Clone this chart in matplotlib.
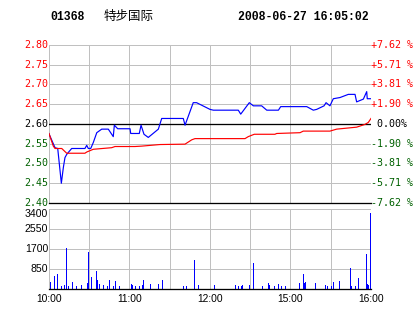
import matplotlib
matplotlib.use('Agg')
import matplotlib.pyplot as plt
import matplotlib.transforms as mtransforms

# ---- data ----
code = "01368"
name = "特步国际"
stamp = "2008-06-27 16:05:02"

price_levels = [2.40, 2.45, 2.50, 2.55, 2.60, 2.65, 2.70, 2.75, 2.80]
price_labels = ["2.40", "2.45", "2.50", "2.55", "2.60", "2.65", "2.70", "2.75", "2.80"]
pct_labels = ["-7.62 %", "-5.71 %", "-3.81 %", "-1.90 %", " 0.00%",
              "+1.90 %", "+3.81 %", "+5.71 %", "+7.62 %"]
prev_close = 2.60

time_ticks = [0, 60, 120, 180, 240]
time_labels = ["10:00", "11:00", "12:00", "15:00", "16:00"]
grid_minutes = [0, 30, 60, 90, 120, 150, 180, 210, 240]

vol_levels = [850, 1700, 2550, 3400]
vol_labels = ["850", "1700", "2550", "3400"]

blue_min = [0, 4.5, 6.5, 9.2, 10.7, 11.9, 13.2, 14.4, 16.9, 26.8,
            28.1, 29.3, 31.1, 33, 35.6, 39.3, 44.2, 47.9, 48.7, 51.2,
            60.4, 60.9, 67.3, 68.6, 70.8, 74, 81.5, 84, 100.1, 101.4,
            107.5, 110, 120, 122.5, 141.1, 142.9, 149.3, 152.3, 158.5, 162.3,
            171, 172.7, 192.1, 197, 199.5, 205, 206.5, 209.4, 211.9, 216.9,
            223.1, 228.1, 229.3, 234.3, 236.8, 237.2, 240]
blue_price = [2.575, 2.540, 2.538, 2.450, 2.490, 2.515, 2.523, 2.528, 2.538, 2.538,
              2.546, 2.538, 2.538, 2.553, 2.578, 2.587, 2.587, 2.568, 2.597, 2.588,
              2.588, 2.576, 2.576, 2.597, 2.574, 2.566, 2.587, 2.614, 2.614, 2.597,
              2.654, 2.654, 2.637, 2.635, 2.635, 2.625, 2.654, 2.646, 2.646, 2.635,
              2.635, 2.644, 2.644, 2.635, 2.637, 2.646, 2.654, 2.646, 2.664, 2.667,
              2.675, 2.675, 2.656, 2.663, 2.682, 2.664, 2.664]

red_min = [0, 3.2, 4.5, 9.5, 13.2, 26.8, 28.1, 33, 46.7, 49.2,
           64.1, 69.1, 82.7, 101.4, 106.4, 108.8, 146.1, 148.5, 153, 168.4,
           169.7, 187.1, 189.5, 209.4, 214.4, 229.3, 235.5, 238, 240]
red_price = [2.576, 2.544, 2.538, 2.538, 2.526, 2.526, 2.529, 2.536, 2.540, 2.543,
             2.543, 2.544, 2.548, 2.549, 2.560, 2.563, 2.563, 2.568, 2.574, 2.574,
             2.576, 2.578, 2.582, 2.582, 2.587, 2.592, 2.599, 2.604, 2.614]

vol_min = [1, 4, 6, 9, 11, 13, 14, 17, 20, 24,
           28, 29, 31, 35, 36, 37, 40, 43, 45, 48,
           49, 52, 61, 62, 64, 67, 69, 70, 75, 81,
           84, 100, 102, 108, 111, 123, 139, 141, 143, 144,
           149, 152, 159, 163, 164, 168, 171, 173, 176, 186,
           189, 190, 191, 198, 206, 207, 210, 212, 216, 224,
           225, 228, 230, 236, 237, 238, 239.5]
vol = [260, 530, 615, 100, 140, 1750, 100, 260, 100, 140,
       215, 1560, 485, 745, 360, 185, 140, 100, 360, 100,
       315, 100, 185, 140, 100, 100, 140, 360, 185, 185,
       360, 100, 100, 1220, 140, 140, 140, 100, 100, 140,
       140, 1100, 100, 230, 140, 100, 185, 100, 100, 230,
       615, 230, 270, 230, 140, 100, 100, 270, 310, 875,
       100, 100, 445, 1475, 185, 140, 3250]

# ---- style ----
RED = "#ff0000"
BLUE = "#0000ff"
GREEN = "#006000"
GRID = "#c0c0c0"
PX = 0.72  # 1 pixel in points at dpi 100
MONO = "DejaVu Sans Mono"

W, H = 414, 314
fig = plt.figure(figsize=(W / 100, H / 100), dpi=100)
fig.patch.set_facecolor("white")

# title
fig.text(50 / W, 1 - 17 / H, code, family="Liberation Mono", weight="bold",
         fontsize=8.3, va="center", ha="left", color="black")
fig.text(104 / W, 1 - 16 / H, name, family=["Noto Sans CJK SC", "DejaVu Sans"],
         fontsize=9, va="center", ha="left", color="black")
fig.text(238 / W, 1 - 17 / H, stamp, family="Liberation Mono", weight="bold",
         fontsize=8.3, va="center", ha="left", color="black")

# ---- price panel ----
ax = fig.add_axes([49 / W, 1 - 203 / H, 322 / W, 158 / H])
ax.set_xlim(0, 240)
ax.set_ylim(price_levels[0], price_levels[-1])
for m in grid_minutes:
    ax.axvline(m, color=GRID, lw=PX, zorder=1)
for lv in price_levels:
    ax.axhline(lv, color=GRID, lw=PX, zorder=1)
ax.axhline(prev_close, color="black", lw=PX * 1.3, zorder=2)
ax.axhline(price_levels[0], color="black", lw=PX * 1.3, zorder=2, clip_on=False)
for s in ax.spines.values():
    s.set_visible(False)
ax.set_xticks([])
ax.set_yticks([])

ax.plot(blue_min, blue_price, color=BLUE, lw=0.85, zorder=3)
ax.plot(red_min, red_price, color=RED, lw=0.85, zorder=3)

def lab_color(lv):
    if abs(lv - prev_close) < 1e-9:
        return "black"
    return RED if lv > prev_close else GREEN

ytr = mtransforms.blended_transform_factory(fig.transFigure, ax.transData)
for lv, lb, pl in zip(price_levels, price_labels, pct_labels):
    c = lab_color(lv)
    fig.text(48 / W, lv, lb, transform=ytr, family=MONO, fontsize=7.2,
             ha="right", va="center", color=c)
    fig.text(371.5 / W, lv, pl, transform=ytr, family=MONO, fontsize=7.2,
             ha="left", va="center", color=c)

# ---- volume panel ----
axv = fig.add_axes([49 / W, 1 - 288.5 / H, 322 / W, 79.5 / H])
axv.set_xlim(0, 240)
axv.set_ylim(0, vol_levels[-1])
for m in grid_minutes:
    axv.axvline(m, color=GRID, lw=PX, zorder=1)
for lv in vol_levels:
    axv.axhline(lv, color=GRID, lw=PX, zorder=1)
axv.axhline(0, color="black", lw=PX * 1.3, zorder=3, clip_on=False)
for s in axv.spines.values():
    s.set_visible(False)
axv.set_xticks([])
axv.set_yticks([])
axv.vlines(vol_min, 0, vol, color=BLUE, lw=PX, zorder=2, antialiased=False)

vtr = mtransforms.blended_transform_factory(fig.transFigure, axv.transData)
for lv, lb in zip(vol_levels, vol_labels):
    fig.text(48 / W, lv, lb, transform=vtr, family="Liberation Sans", fontsize=7.6,
             ha="right", va="top" if lv == vol_levels[-1] else "center",
             color="black")

xtr = mtransforms.blended_transform_factory(axv.transData, fig.transFigure)
for t, lb in zip(time_ticks, time_labels):
    fig.text(t, 1 - 299 / H, lb, transform=xtr, family="Liberation Sans",
             fontsize=7.4, ha="center", va="center", color="black")

fig.savefig("out.png", dpi=100, facecolor="white")
